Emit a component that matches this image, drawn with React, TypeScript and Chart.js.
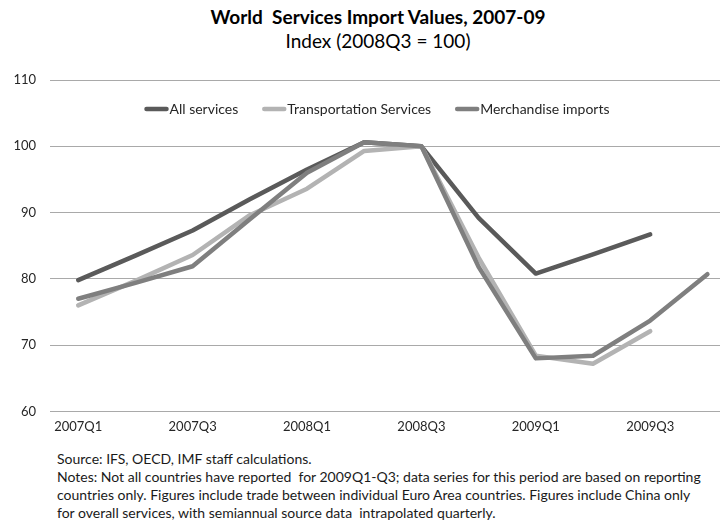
import React, { useEffect, useRef } from "react";
import { Chart, registerables } from "chart.js";

Chart.register(...registerables);

const categories = [
  "2007Q1", "2007Q2", "2007Q3", "2007Q4",
  "2008Q1", "2008Q2", "2008Q3", "2008Q4",
  "2009Q1", "2009Q2", "2009Q3", "2009Q4",
];

const allServices = [79.8, 83.5, 87.3, 92.0, 96.5, 100.6, 100.0, 89.2, 80.8, 83.7, 86.7, null];
const transportation = [76.0, 79.7, 83.6, 89.6, 93.6, 99.3, 100.0, 83.2, 68.4, 67.2, 72.1, null];
const merchandise = [77.0, 79.4, 81.9, 89.0, 96.0, 100.6, 100.0, 81.8, 68.0, 68.4, 73.7, 80.7];

const seriesNames = ["All services", "Transportation Services", "Merchandise imports"];
const seriesColors = ["#5a5a5a", "#b3b3b3", "#7f7f7f"];
const yTicks = [60, 70, 80, 90, 100, 110];

const titleText = "World  Services Import Values, 2007-09";
const subtitleText = "Index (2008Q3 = 100)";
const notesLines = [
  "Source: IFS, OECD, IMF staff calculations.",
  "Notes: Not all countries have reported  for 2009Q1-Q3; data series for this period are based on reporting",
  "countries only. Figures include trade between individual Euro Area countries. Figures include China only",
  "for overall services, with semiannual source data  intrapolated quarterly.",
];

const FONT = "Lato, 'Open Sans', sans-serif";

// Legend drawn inside the plot area, one row, lines with round caps.
const insideLegend = {
  id: "insideLegend",
  afterDraw(chart: any) {
    const ctx = chart.ctx as CanvasRenderingContext2D;
    const centerX = 377;
    const centerY = chart.chartArea.top + 29;
    const lineLen = 24;
    const textGap = 1;
    const itemGap = 24;
    ctx.save();
    ctx.font = `14px ${FONT}`;
    const items = chart.data.datasets.map((ds: any) => {
      const w = ctx.measureText(ds.label).width;
      return { label: ds.label, color: ds.borderColor, lw: ds.borderWidth, w };
    });
    const total =
      items.reduce((s: number, it: any) => s + lineLen + textGap + it.w, 0) +
      itemGap * (items.length - 1);
    let x = centerX - total / 2;
    ctx.textBaseline = "middle";
    ctx.textAlign = "left";
    for (const it of items) {
      ctx.beginPath();
      ctx.lineCap = "round";
      ctx.lineWidth = it.lw;
      ctx.strokeStyle = it.color;
      ctx.moveTo(x + 2, centerY);
      ctx.lineTo(x + lineLen - 2, centerY);
      ctx.stroke();
      ctx.fillStyle = "#262626";
      ctx.fillText(it.label, x + lineLen + textGap, centerY + 0.5);
      x += lineLen + textGap + it.w + itemGap;
    }
    ctx.restore();
  },
};

export default function App() {
  const canvasRef = useRef<HTMLCanvasElement | null>(null);

  useEffect(() => {
    if (!canvasRef.current) return;
    const seriesData = [allServices, transportation, merchandise];
    const chart = new Chart(canvasRef.current, {
      type: "line",
      data: {
        labels: categories,
        datasets: seriesData.map((d, i) => ({
          label: seriesNames[i],
          data: d,
          borderColor: seriesColors[i],
          backgroundColor: seriesColors[i],
          order: 3 - i,
          borderWidth: 4.5,
          pointRadius: 0,
          pointHoverRadius: 0,
          tension: 0,
          borderCapStyle: "round" as const,
          borderJoinStyle: "round" as const,
          spanGaps: false,
        })),
      },
      options: {
        responsive: false,
        animation: false,
        layout: { padding: { left: 0, right: 6, top: 80, bottom: 2 } },
        plugins: {
          title: { display: false },
          tooltip: { enabled: false },
          legend: { display: false },
        },
        scales: {
          x: {
            type: "category",
            offset: true,
            grid: { display: false, drawTicks: false },
            border: { display: false },
            ticks: {
              autoSkip: false,
              maxRotation: 0,
              padding: 8,
              color: "#262626",
              font: { family: FONT, size: 13 },
              callback: (_v: any, i: number) => (i % 2 === 0 ? categories[i] : ""),
            },
          },
          y: {
            min: yTicks[0],
            max: yTicks[yTicks.length - 1],
            afterBuildTicks: (axis: any) => {
              axis.ticks = yTicks.map((v) => ({ value: v }));
            },
            grid: { color: "#a9a9a9", lineWidth: 1, drawTicks: false },
            border: { display: false },
            ticks: {
              padding: 13.5,
              color: "#262626",
              font: { family: FONT, size: 13 },
            },
          },
        },
      },
      plugins: [insideLegend],
    });
    return () => chart.destroy();
  }, []);

  return (
    <div
      style={{
        position: "absolute",
        left: 0,
        top: 0,
        width: 720,
        height: 523,
        overflow: "hidden",
        background: "#ffffff",
        fontFamily: FONT,
        color: "#000",
      }}
    >
      <div
        style={{
          position: "absolute",
          left: 0,
          top: 6,
          width: 756,
          textAlign: "center",
          fontWeight: 700,
          fontSize: 19,
          lineHeight: "22px",
          whiteSpace: "pre",
        }}
      >
        {titleText}
      </div>
      <div
        style={{
          position: "absolute",
          left: 0,
          top: 30,
          width: 756,
          textAlign: "center",
          fontSize: 19,
          lineHeight: "22px",
          whiteSpace: "pre",
        }}
      >
        {subtitleText}
      </div>
      <canvas
        ref={canvasRef}
        width={742}
        height={445}
        style={{ position: "absolute", left: 0, top: 0, width: 742, height: 445 }}
      />
      <div
        style={{
          position: "absolute",
          left: 57,
          top: 450,
          fontSize: 14,
          lineHeight: "18px",
          color: "#1a1a1a",
          whiteSpace: "pre",
        }}
      >
        {notesLines.map((l, i) => (
          <div key={i}>{l}</div>
        ))}
      </div>
    </div>
  );
}
